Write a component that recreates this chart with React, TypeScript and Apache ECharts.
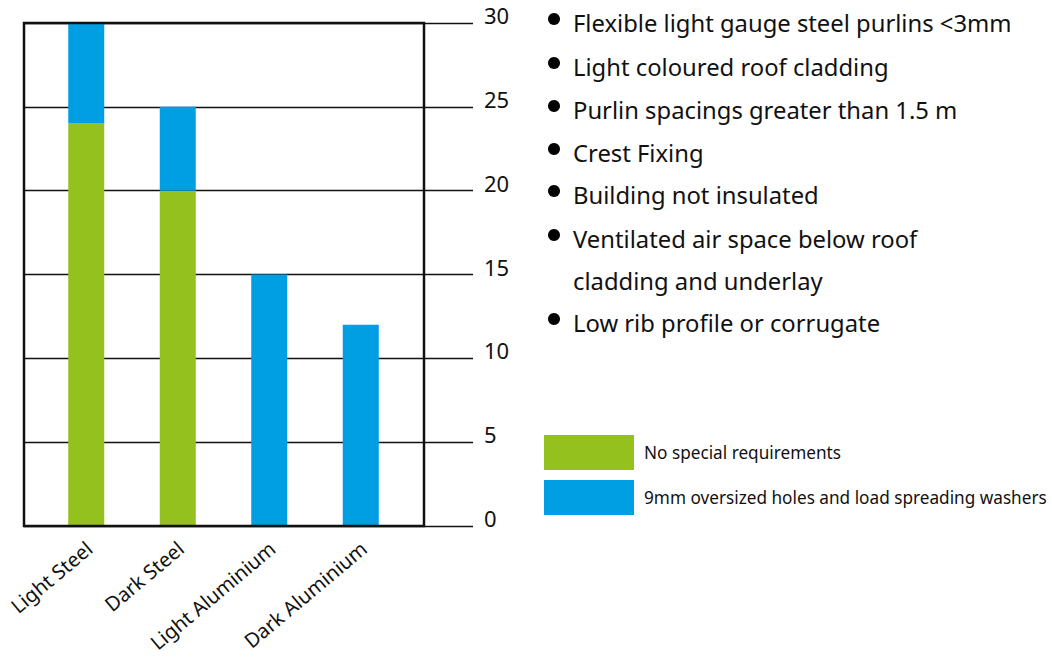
import React, { useEffect, useRef } from "react";
import * as echarts from "echarts";

const categories = ["Light Steel", "Dark Steel", "Light Aluminium", "Dark Aluminium"];
const noSpecial = [24, 20, null, null];
const oversized = [6, 5, 15, 12];
const seriesNames = ["No special requirements", "9mm oversized holes and load spreading washers"];
const bullets = [
  "Flexible light gauge steel purlins <3mm",
  "Light coloured roof cladding",
  "Purlin spacings greater than 1.5 m",
  "Crest Fixing",
  "Building not insulated",
  "Ventilated air space below roof",
  "Low rib profile or corrugate",
];
const bulletContinuation = "cladding and underlay";

const GREEN = "#95C11F";
const BLUE = "#009FE3";
const FONT = "'Noto Sans', 'Open Sans', sans-serif";

export default function App() {
  const ref = useRef<HTMLDivElement>(null);
  useEffect(() => {
    document.body.style.margin = "0";
    const chart = echarts.init(ref.current!, null, { renderer: "svg" });
    const top = 23;
    const height = 503;

    const bulletY = [23, 67, 110, 153, 195, 239, 323];
    const graphics: any[] = [];
    bullets.forEach((b, i) => {
      graphics.push({
        type: "circle",
        shape: { cx: 554, cy: bulletY[i] - 4, r: 6 },
        style: { fill: "#000" },
      });
      graphics.push({
        type: "text",
        x: 573,
        y: bulletY[i],
        style: { text: b, font: `23.8px ${FONT}`, fill: "#111", verticalAlign: "middle" },
      });
    });
    graphics.push({
      type: "text",
      x: 573,
      y: 281,
      style: { text: bulletContinuation, font: `23.8px ${FONT}`, fill: "#111", verticalAlign: "middle" },
    });
    graphics.push({
      type: "rect",
      shape: { x: 24, y: top, width: 400, height: height },
      style: { fill: "none", stroke: "#111", lineWidth: 2.5 },
      z: 100,
    });

    chart.setOption({
      animation: false,
      textStyle: { fontFamily: FONT },
      grid: [
        { left: 24, width: 449, top, height },
        { left: 40.5, width: 366, top, height },
      ],
      xAxis: [
        { type: "value", gridIndex: 0, show: false, min: 0, max: 1 },
        {
          type: "category",
          gridIndex: 1,
          data: categories,
          axisLine: { show: false },
          axisTick: { show: false },
          axisLabel: { rotate: 40, fontSize: 20, color: "#111", margin: 22, interval: 0, padding: [0, -4, 0, 0] },
        },
      ],
      yAxis: [
        {
          type: "value",
          gridIndex: 0,
          position: "right",
          min: 0,
          max: 30,
          interval: 5,
          axisLine: { show: false },
          axisTick: { show: false },
          splitLine: { lineStyle: { color: "#111", width: 1.3 } },
          axisLabel: { fontSize: 22, color: "#111", margin: 11, verticalAlign: "bottom", padding: [0, 0, -3, 0] },
        },
        { type: "value", gridIndex: 1, min: 0, max: 30, interval: 5, show: false },
      ],
      legend: {
        orient: "vertical",
        left: 544,
        top: 435,
        padding: 0,
        itemWidth: 90,
        itemHeight: 35,
        itemGap: 10,
        icon: "rect",
        textStyle: { fontSize: 17.2, color: "#111", padding: [0, 0, 0, 5] },
        data: seriesNames,
      },
      series: [
        {
          name: seriesNames[0],
          type: "bar",
          stack: "total",
          xAxisIndex: 1,
          yAxisIndex: 1,
          barWidth: 36,
          itemStyle: { color: GREEN },
          data: noSpecial,
        },
        {
          name: seriesNames[1],
          type: "bar",
          stack: "total",
          xAxisIndex: 1,
          yAxisIndex: 1,
          barWidth: 36,
          itemStyle: { color: BLUE },
          data: oversized,
        },
      ],
      graphic: graphics,
    });
    return () => chart.dispose();
  }, []);
  return <div ref={ref} style={{ width: 1052, height: 661 }} />;
}
